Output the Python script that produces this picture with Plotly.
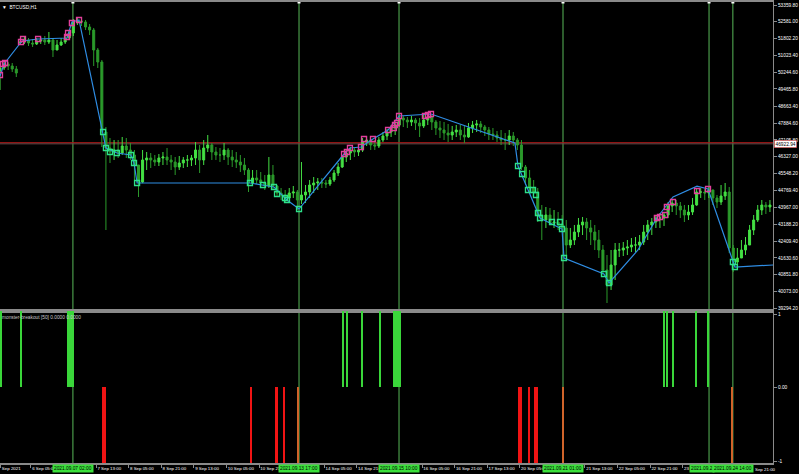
import plotly.graph_objects as go

# BTCUSD H1, 3 Sep - 24 Sep 2021, one candle for every two hourly bars
highs = [50532, 50810, 50717, 50671, 50532, 51830, 51876, 51830, 51784, 51830,
         51876, 51923, 52108, 51784, 51737, 51830, 51969, 52201, 52711, 52757,
         52757, 52665, 52479, 52294, 51366, 50810, 47703, 47193, 47100, 47100,
         47239, 47193, 46961, 46636, 45941, 46636, 46543, 46497, 46404, 46451,
         46543, 46729, 46404, 46312, 46358, 46312, 46404, 46404, 47007, 46868,
         47100, 47332, 46961, 46775, 46729, 46961, 46729, 46636, 46543, 46404,
         46265, 45801, 45709, 45709, 45616, 45477, 46312, 45941, 45013, 44874,
         44782, 44874, 44967, 44782, 46080, 45013, 45245, 45384, 45338, 45338,
         45245, 45384, 45709, 46034, 46404, 46636, 46775, 46729, 46822, 47193,
         47286, 47193, 47100, 47239, 47471, 47610, 47796, 47935, 48306, 48213,
         48167, 48213, 48120, 48120, 48260, 48352, 48260, 48028, 47981, 47935,
         47842, 47750, 47796, 47796, 47750, 47889, 47981, 48028, 47981, 47796,
         47703, 47657, 47518, 47564, 47425, 47564, 47471, 47193, 47100, 45941,
         45709, 45245, 44874, 44086, 43993, 43947, 43854, 43761, 43622, 43391,
         43020, 43159, 43484, 43530, 43484, 43391, 43159, 42927, 42231, 41767,
         41999, 42324, 42324, 42370, 42463, 42556, 42602, 42695, 43159, 43391,
         43484, 43622, 43715, 43761, 44225, 44364, 44318, 44225, 44086, 44086,
         44411, 44874, 44874, 44828, 44921, 44800, 44550, 45013, 45106, 44921,
         42231, 42092, 42463, 42602, 43159, 43622, 44086, 44318, 44225, 44318]
lows = [49419, 50346, 50346, 50253, 50021, 51505, 51552, 51459, 51413, 51505,
        51552, 51505, 51552, 50948, 51273, 51459, 51552, 51737, 51923, 52433,
        52386, 52201, 51969, 50532, 50439, 46775, 42927, 46034, 46173, 46265,
        46404, 46265, 46173, 45013, 44457, 45100, 45709, 45801, 45894, 45894,
        45941, 45941, 45709, 45477, 45709, 45801, 45848, 45894, 45941, 45570,
        45941, 46543, 46173, 46173, 46080, 46173, 45941, 45848, 45801, 45616,
        45477, 44689, 44967, 45059, 44874, 44782, 44874, 44782, 44457, 44318,
        44179, 44318, 44411, 43854, 44133, 44179, 44411, 44642, 44782, 44874,
        44874, 44967, 45152, 45430, 45801, 46080, 46173, 46312, 46358, 46543,
        46822, 46636, 46636, 46729, 47007, 47100, 47239, 47332, 47703, 47703,
        47657, 47750, 47564, 47239, 47657, 47796, 47564, 47332, 47193, 47100,
        47007, 47100, 47239, 47100, 46961, 47200, 47425, 47471, 47425, 47286,
        47100, 47100, 47007, 46868, 46636, 46868, 46822, 46636, 45709, 45013,
        44689, 44457, 43298, 42463, 43020, 43159, 43020, 42927, 42834, 41536,
        42092, 42231, 42602, 42695, 42463, 42231, 41999, 41628, 40840, 39542,
        40145, 40608, 41675, 41721, 41767, 41906, 41906, 41999, 42231, 42463,
        42695, 43020, 43020, 43113, 43484, 43761, 43622, 43484, 43298, 43391,
        43622, 44050, 44411, 44318, 44411, 44086, 43947, 44086, 44318, 41860,
        40979, 41072, 41628, 41767, 42231, 42695, 43298, 43622, 43669, 43761]
closes = [50440, 50625, 50532, 50392, 50207, 51644, 51737, 51598, 51552, 51691,
          51737, 51644, 51737, 51273, 51505, 51644, 51830, 52062, 52572, 52618,
          52572, 52340, 52201, 51273, 50717, 47471, 46729, 46543, 46636, 46497,
          46822, 46636, 46404, 45941, 45152, 46173, 46265, 46173, 46080, 46265,
          46312, 46173, 46080, 45848, 46034, 46173, 46173, 46265, 46636, 46173,
          46729, 46868, 46543, 46404, 46404, 46636, 46312, 46173, 46080, 45941,
          45709, 45106, 45338, 45245, 45106, 44967, 45477, 44967, 44642, 44550,
          44411, 44642, 44689, 44318, 44550, 44689, 45013, 45106, 45152, 45106,
          45059, 45245, 45570, 45848, 46312, 46497, 46636, 46543, 46636, 47007,
          47100, 46868, 46822, 47100, 47286, 47471, 47657, 47796, 48120, 48028,
          47935, 48028, 47889, 47750, 48028, 48167, 47935, 47657, 47564, 47425,
          47332, 47471, 47564, 47332, 47239, 47657, 47796, 47842, 47703, 47564,
          47378, 47332, 47193, 47100, 47100, 47286, 47100, 46868, 45848, 45338,
          44874, 44689, 43622, 43391, 43622, 43252, 43298, 43205, 43020, 42231,
          42463, 42834, 43159, 43298, 43020, 42834, 42463, 41999, 41072, 40376,
          41304, 41999, 41999, 42092, 42138, 42231, 42231, 42370, 42834, 43159,
          43298, 43484, 43484, 43622, 44040, 44179, 44040, 43854, 43622, 43761,
          44086, 44689, 44689, 44642, 44782, 44411, 44225, 44504, 44689, 42092,
          41443, 41628, 41999, 42231, 42927, 43391, 43854, 44086, 43993, 44086]
first_open = 50300
weekend_gap = {5: 51620}  # Monday open after the Friday close

# zigzag (bar index, price)
zz_x = [0, 2.0, 10.8, 18.7, 32.9, 35.3, 38.8, 50.6, 52.0, 57.4, 64.3, 65.8, 67.3,
        122.7, 129.1, 134.5, 140.9, 146.8, 168.9, 171.8, 177.2, 183.1, 190.5, 195.9,
        211.6, 252.8, 254.3, 259.2, 265.1, 275.9, 276.9, 296.5, 299.0, 313.2, 322.5,
        330.4, 342.2, 347.6, 359.8, 360.8, 379.5]
zz_y = [50068, 50625, 51691, 51784, 51830, 52572, 52665, 47471, 46729, 46497, 46404,
        46034, 45106, 45106, 45013, 44921, 44318, 43900, 46451, 46729, 46775, 47146,
        47564, 48213, 48306, 46961, 45894, 44782, 43484, 42973, 41628, 40886, 40469,
        41999, 43484, 44457, 44960, 44828, 41443, 41211, 41304]

up_x = [0, 1.5, 2.5, 10.3, 11.3, 18.7, 32.9, 33.4, 35.3, 38.8,
        168.9, 170.3, 171.8, 177.2, 178.7, 183.1, 190.5, 193.4, 193.9, 194.9, 195.9,
        208.6, 210.1, 211.6, 322.5, 324.0, 326.5, 327.4, 330.4, 342.2, 347.6]
up_y = [50114, 50625, 50671, 51644, 51784, 51784, 51876, 52062, 52526, 52665,
        46451, 46543, 46729, 46775, 47146, 47146, 47564, 47657, 47796, 47889, 48213,
        48213, 48260, 48306, 43484, 43530, 43622, 43993, 44225, 44735, 44828]
dn_x = [50.6, 52.0, 54.0, 57.4, 64.3, 65.8, 67.3, 122.7, 129.1, 134.5, 136.0, 139.9,
        140.9, 146.8, 254.3, 256.3, 259.2, 261.7, 263.1, 264.1, 265.1, 271.0, 274.9,
        275.9, 276.9, 296.5, 299.0, 359.8, 360.8]
dn_y = [47471, 46729, 46543, 46497, 46404, 46034, 45106, 45106, 45013, 44921, 44596,
        44411, 44318, 43900, 45894, 45523, 44782, 44782, 44550, 43715, 43484, 43298,
        43298, 42973, 41628, 40886, 40469, 41443, 41211]

bid = 46922.94
ask = 46975

# monster-breakout indicator
buy_x = [0.7, 10.1, 33.6, 34.6, 35.6, 168.4, 170.4, 177.7, 186.6, 193.4, 194.4,
         195.4, 196.4, 326.0, 327.5, 330.5, 341.9, 347.8]
sell_x = [50.4, 51.6, 123.1, 135.7, 139.6, 254.7, 255.7, 259.7, 262.6, 263.6]
exit_x = [146.5, 276.5, 359.6]

vline_x = [35.8, 146.8, 195.9, 276.4, 348.1, 359.8]
vline_text = ["2021.09.07 02:00", "2021.09.13 17:00", "2021.09.15 10:00",
              "2021.09.21 01:00", "2021.09.2", "2021.09.24 14:00"]

price_ticks = [53359.80, 52581.00, 51802.20, 51023.40, 50244.60, 49465.80, 48663.40,
               47884.60, 47105.80, 46327.00, 45548.20, 44769.40, 43967.00, 43188.20,
               42409.40, 41630.60, 40851.80, 40073.00, 39294.20]
# time labels every 16 hourly bars; the ones hidden under the green line labels are left out
time_ticks = [0.3, 15.2, 47.2, 63.2, 79.2, 95.2, 111.2, 127.2, 159.2, 175.2, 207.2,
              223.2, 239.2, 255.2, 287.2, 303.2, 319.2, 335.2]
time_text = ["Sep 2021", "6 Sep 05:00", "7 Sep 13:00", "8 Sep 05:00", "8 Sep 21:00",
             "9 Sep 13:00", "10 Sep 05:00", "10 Sep 21:00", "14 Sep 05:00", "14 Sep 21:00",
             "16 Sep 05:00", "16 Sep 21:00", "17 Sep 13:00", "20 Sep 05:00", "21 Sep 13:00",
             "22 Sep 05:00", "22 Sep 21:00", "23"]
last_time_x = 369.8
last_time_text = "Sep 21:00"

candle_x = list(range(0, 2 * len(closes), 2))
opens = [first_open] + closes[:-1]
for i, v in weekend_gap.items():
    opens[i] = v

FONT = "Liberation Sans"
FS = 4.8
TFS = 4.4
GRID = "#8a8a8a"
y_lo, y_hi = 39171, 53499

fig = go.Figure()
fig.add_trace(go.Candlestick(
    x=candle_x, open=opens, high=highs, low=lows, close=closes,
    increasing=dict(line=dict(color="#44e044", width=1), fillcolor="#44e044"),
    decreasing=dict(line=dict(color="#2b9a2b", width=1), fillcolor="#2b9a2b"),
    whiskerwidth=0, hoverinfo="skip", xaxis="x", yaxis="y"))
fig.add_trace(go.Scatter(x=zz_x, y=zz_y, mode="lines",
                         line=dict(color="#2f8de4", width=1.2), hoverinfo="skip"))
fig.add_trace(go.Scatter(x=up_x, y=up_y, mode="markers", hoverinfo="skip",
                         marker=dict(symbol="square-open", size=5, color="#e2409c",
                                     line=dict(width=1.3, color="#e2409c"))))
fig.add_trace(go.Scatter(x=dn_x, y=dn_y, mode="markers", hoverinfo="skip",
                         marker=dict(symbol="square-open", size=5, color="#2de08a",
                                     line=dict(width=1.3, color="#2de08a"))))
# anchor handles of the vertical lines
fig.add_trace(go.Scatter(x=vline_x * 2, y=[y_hi] * len(vline_x) + [y_lo] * len(vline_x),
                         mode="markers", cliponaxis=False, hoverinfo="skip",
                         marker=dict(symbol="square", size=3, color="#ffffff")))

fig.add_trace(go.Bar(x=buy_x, y=[1] * len(buy_x), width=1, marker_color="#3ad63a",
                     marker_line_width=0, xaxis="x2", yaxis="y2", hoverinfo="skip"))
fig.add_trace(go.Bar(x=sell_x, y=[-1] * len(sell_x), width=1.1, marker_color="#f01414",
                     marker_line_width=0, xaxis="x2", yaxis="y2", hoverinfo="skip"))
fig.add_trace(go.Bar(x=exit_x, y=[-1] * len(exit_x), width=0.8, marker_color="#d0642a",
                     marker_line_width=0, xaxis="x2", yaxis="y2", hoverinfo="skip"))

for vx in vline_x:
    fig.add_shape(type="line", xref="x", yref="paper", x0=vx, x1=vx, y0=0, y1=1,
                  line=dict(color="#58b858", width=1), layer="below")
fig.add_shape(type="line", xref="paper", yref="y", x0=0, x1=1, y0=ask, y1=ask,
              line=dict(color="#b01818", width=1), layer="below")
fig.add_shape(type="line", xref="paper", yref="y", x0=0, x1=1, y0=bid, y1=bid,
              line=dict(color="#6a4a4a", width=1), layer="below")

for i, (vx, txt) in enumerate(zip(vline_x, vline_text)):
    partial = i == 4  # this label is mostly covered by the next one
    fig.add_annotation(x=vx, xref="x", xanchor="right" if partial else "center",
                       xshift=6 if partial else 0,
                       y=0, yref="paper", yanchor="top", yshift=-1,
                       text=txt, showarrow=False, bgcolor="#3be03b", borderpad=1,
                       font=dict(family=FONT, size=FS, color="#000000"))
fig.add_annotation(x=last_time_x, xref="x", xanchor="left", y=0, yref="paper",
                   yanchor="top", yshift=-2, text=last_time_text, showarrow=False,
                   font=dict(family=FONT, size=TFS, color="#ffffff"))
fig.add_annotation(x=1, xref="paper", xanchor="left", xshift=1, y=bid, yref="y",
                   text="46922.94", showarrow=False, bgcolor="#ffffff", borderpad=1,
                   bordercolor="#c01818", borderwidth=0.5,
                   font=dict(family=FONT, size=FS, color="#000000"))
fig.add_annotation(x=0, xref="paper", xanchor="left", y=1, yref="paper", yanchor="top",
                   yshift=-1, text="\u25bc  BTCUSD,H1", showarrow=False,
                   font=dict(family=FONT, size=FS, color="#ffffff"))
fig.add_annotation(x=0, xref="paper", xanchor="left", y=1, yref="y2 domain", yanchor="top",
                   yshift=-2, text="monster-breakout [50] 0.0000 0.0000", showarrow=False,
                   font=dict(family=FONT, size=FS, color="#c8c8c8"))

split = (463 - 311) / 461
fig.update_layout(
    width=799, height=474, margin=dict(l=0, r=26, t=2, b=11),
    paper_bgcolor="#000000", plot_bgcolor="#000000", showlegend=False,
    font=dict(family=FONT, size=FS, color="#ffffff"), bargap=0,
    xaxis=dict(domain=[0, 1], range=[0, 379.5], anchor="y", matches="x2",
               showticklabels=False, ticks="", showgrid=False, zeroline=False,
               showline=True, mirror=True, linecolor=GRID, linewidth=1.5,
               rangeslider=dict(visible=False)),
    yaxis=dict(domain=[split, 1], range=[y_lo, y_hi], side="right", anchor="x",
               tickvals=price_ticks, ticktext=[f"{v:.2f}" for v in price_ticks],
               ticks="outside", ticklen=3, tickcolor=GRID, showgrid=False,
               zeroline=False, showline=True, linecolor=GRID, linewidth=1),
    xaxis2=dict(domain=[0, 1], range=[0, 379.5], anchor="y2", tickvals=time_ticks,
                ticktext=time_text, ticklabelposition="outside right", tickangle=0,
                tickfont=dict(size=TFS), ticks="outside", ticklen=3, tickcolor=GRID,
                showgrid=False, zeroline=False, showline=True, mirror=True,
                linecolor=GRID, linewidth=1.5),
    yaxis2=dict(domain=[0, split], range=[-1, 1], side="right", anchor="x2",
                tickvals=[0.95, 0, -0.98], ticktext=["1", "0.00", "-1"],
                ticks="outside", ticklen=3, tickcolor=GRID, showgrid=False,
                zeroline=False, showline=True, linecolor=GRID, linewidth=1),
)

fig.write_html("out.html", config={"displayModeBar": False},
               post_script="document.body.style.margin = '0';")
